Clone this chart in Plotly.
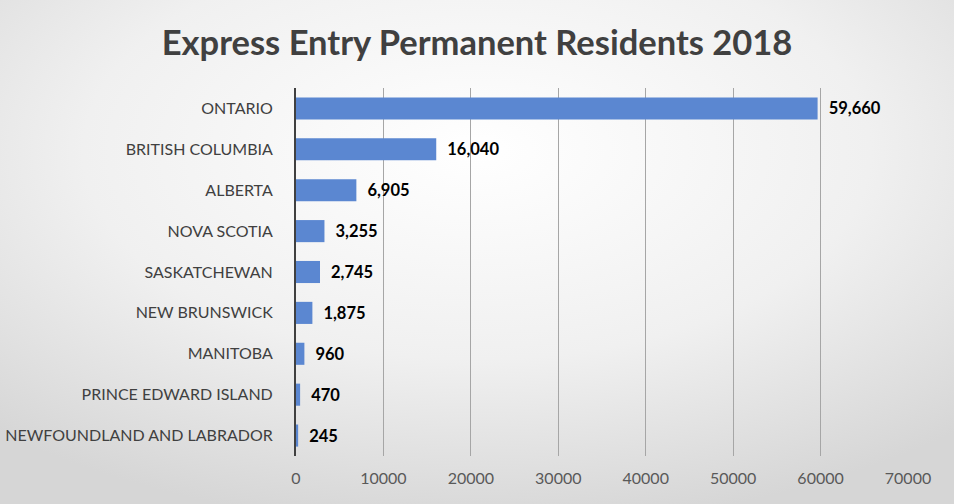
import plotly.graph_objects as go
import base64

# Data
provinces = [
    'ONTARIO', 'BRITISH COLUMBIA', 'ALBERTA', 'NOVA SCOTIA', 'SASKATCHEWAN',
    'NEW BRUNSWICK', 'MANITOBA', 'PRINCE EDWARD ISLAND',
    'NEWFOUNDLAND AND LABRADOR'
]
residents = [59660, 16040, 6905, 3255, 2745, 1875, 960, 470, 245]
x_ticks = [0, 10000, 20000, 30000, 40000, 50000, 60000, 70000]

W, H = 954, 504
L, R, T, B = 296, 46, 88, 48
pw, ph = W - L - R, H - T - B

# soft radial background like the slide export
svg = (
    '<svg xmlns="http://www.w3.org/2000/svg" width="954" height="504">'
    '<defs><radialGradient id="g" cx="50%" cy="30%" r="75%">'
    '<stop offset="0%" stop-color="#ffffff"/>'
    '<stop offset="55%" stop-color="#f0f0f0"/>'
    '<stop offset="100%" stop-color="#d6d6d6"/>'
    '</radialGradient></defs>'
    '<rect width="954" height="504" fill="url(#g)"/></svg>'
)
bg = 'data:image/svg+xml;base64,' + base64.b64encode(svg.encode()).decode()

fig = go.Figure(
    go.Bar(
        x=residents,
        y=provinces,
        orientation='h',
        marker=dict(color='#5B87D1', line=dict(width=0)),
        texttemplate='  %{x:,}',
        textposition='outside',
        textfont=dict(family='Lato', size=16.5, color='#000000', weight='bold'),
        cliponaxis=False,
    )
)

fig.update_layout(
    width=W, height=H,
    margin=dict(l=L, r=R, t=T, b=B, autoexpand=False),
    paper_bgcolor='#ececec',
    plot_bgcolor='rgba(0,0,0,0)',
    bargap=0.46,
    showlegend=False,
    title=dict(
        text='<b>Express Entry Permanent Residents 2018</b>',
        x=0.5, xanchor='center', y=0.915, yanchor='middle',
        font=dict(family='Lato', size=34.5, color='#404040'),
    ),
    images=[dict(
        source=bg, xref='paper', yref='paper',
        x=-L / pw, y=1 + T / ph, sizex=W / pw, sizey=H / ph,
        xanchor='left', yanchor='top', sizing='stretch', layer='below',
    )],
    xaxis=dict(
        range=[0, 70000],
        tickvals=x_ticks,
        ticktext=[str(v) for v in x_ticks],
        showgrid=True, gridcolor='#a6a6a6', gridwidth=1,
        zeroline=False, showline=False,
        ticks='', ticklen=0, automargin=False,
        ticklabelstandoff=11,
        tickfont=dict(family='Lato', size=16, color='#595959'),
    ),
    yaxis=dict(
        autorange='reversed',
        showline=True, linecolor='#404040', linewidth=2,
        showgrid=False, ticks='', automargin=False,
        ticklabelstandoff=18,
        tickfont=dict(family='Lato', size=16, color='#404040'),
    ),
)

# drop the browser's default page margin so the figure fills the window
fig.write_html(
    "out.html",
    config={'displayModeBar': False},
    post_script="document.body.style.margin='0';",
)
